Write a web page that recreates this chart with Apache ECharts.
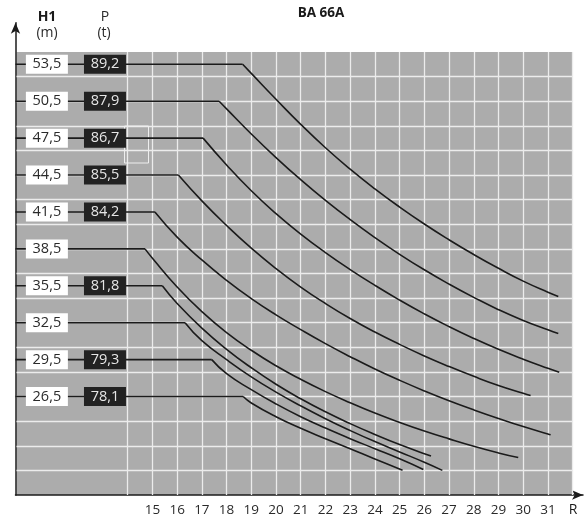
<!DOCTYPE html>
<html>
<head>
<meta charset="utf-8">
<script src="https://cdn.jsdelivr.net/npm/echarts@6/dist/echarts.min.js"></script>
<style>
html,body{margin:0;padding:0;background:#fff;}
#chart{width:584px;height:517px;}
</style>
</head>
<body>
<div id="chart"></div>
<script>
// ---- data ----
const TITLE = 'BA 66A';
const H1 = [53.5, 50.5, 47.5, 44.5, 41.5, 38.5, 35.5, 32.5, 29.5, 26.5];
const P  = [89.2, 87.9, 86.7, 85.5, 84.2, null, 81.8, null, 79.3, 78.1];
const ROW_Y = [17.5, 16, 14.5, 13, 11.5, 10, 8.5, 7, 5.5, 4];
const X_TICKS = [15,16,17,18,19,20,21,22,23,24,25,26,27,28,29,30,31];
const C1 = [[18.65,17.5],[19,17.13],[20,16.08],[21,15.06],[22,14.11],[23,13.24],[24,12.44],[25,11.7],[26,11.01],[27,10.37],[28,9.77],[29,9.21],[30,8.69],[31,8.24],[31.42,8.07]];
const C2 = [[17.7,16],[18,15.69],[19,14.67],[20,13.71],[21,12.81],[22,11.97],[23,11.19],[24,10.46],[25,9.78],[26,9.15],[27,8.57],[28,8.03],[29,7.53],[30,7.09],[31,6.71],[31.42,6.56]];
const C3 = [[17.05,14.5],[18,13.41],[19,12.36],[20,11.43],[21,10.6],[22,9.85],[23,9.16],[24,8.52],[25,7.92],[26,7.36],[27,6.84],[28,6.36],[29,5.92],[30,5.52],[31,5.15],[31.46,4.99]];
const C4 = [[16.05,13],[17,11.95],[18,10.95],[19,10.03],[20,9.2],[21,8.45],[22,7.78],[23,7.17],[24,6.62],[25,6.12],[26,5.65],[27,5.22],[28,4.82],[29,4.45],[30,4.13],[30.3,4.04]];
const C5 = [[15.1,11.5],[16,10.48],[17,9.55],[18,8.72],[19,7.98],[20,7.32],[21,6.72],[22,6.15],[23,5.62],[24,5.12],[25,4.66],[26,4.23],[27,3.83],[28,3.46],[29,3.11],[30,2.78],[31,2.48],[31.11,2.45]];
const C6 = [[14.7,10],[15,9.62],[16,8.45],[17,7.45],[18,6.6],[19,5.88],[20,5.25],[21,4.7],[22,4.2],[23,3.75],[24,3.33],[25,2.95],[26,2.6],[27,2.28],[28,1.98],[29,1.71],[29.8,1.52]];
const C7 = [[15.4,8.5],[16,7.78],[17,6.78],[18,5.92],[19,5.17],[20,4.5],[21,3.91],[22,3.38],[23,2.9],[24,2.46],[25,2.05],[26,1.68],[26.27,1.58]];
const C8 = [[16.32,7],[17,6.27],[18,5.5],[19,4.8],[20,4.18],[21,3.62],[22,3.1],[23,2.62],[24,2.17],[25,1.75],[26,1.33],[26.73,1.0]];
const C9 = [[17.4,5.5],[18,4.93],[19,4.28],[20,3.7],[21,3.18],[22,2.72],[23,2.29],[24,1.88],[25,1.47],[25.96,1.04]];
const C10 = [[18.67,4],[19,3.74],[20,3.18],[21,2.71],[22,2.29],[23,1.88],[24,1.46],[25.12,1.01]];
const CURVES = [C1,C2,C3,C4,C5,C6,C7,C8,C9,C10];

// ---- layout (not data) ----
const X_MIN = 9.46, X_MAX = 32.42, Y_MAX = 19.19;
const GRID_X0 = 14, GRID_X1 = 32, GRID_Y1 = 18;
const WHITE_X = 10.73, DARK_X = 13.08;
const FONT = '"Open Sans", "Noto Sans", sans-serif';
const LINE_C = '#1b1b1b';

const fmt = v => String(v.toFixed(1)).replace('.', ',');

const chart = echarts.init(document.getElementById('chart'), null, {renderer: 'canvas'});

const gridLines = [];
for (let y = 1; y < GRID_Y1; y++) gridLines.push([{coord:[X_MIN + 0.04, y]}, {coord:[GRID_X1, y]}]);
for (let x = GRID_X0; x <= GRID_X1; x++) gridLines.push([{coord:[x, 0]}, {coord:[x, GRID_Y1]}]);

const series = [];
series.push({
  type: 'line', data: [[X_MIN, 0]], symbol: 'none', lineStyle: {opacity: 0}, z: 1, silent: true,
  markArea: {silent: true, z: 0, itemStyle: {color: '#acacac'}, data: [[{coord:[X_MIN + 0.04, 0]}, {coord:[GRID_X1, GRID_Y1]}]]},
  markLine: {silent: true, z: 1, symbol: 'none', label: {show: false},
    lineStyle: {color: '#ececec', width: 1.3, type: 'solid'}, data: gridLines}
});
// connector lines
ROW_Y.forEach((y, i) => {
  series.push({type: 'line', data: [[X_MIN, y], [CURVES[i][0][0], y]], symbol: 'none', z: 4,
    lineStyle: {color: LINE_C, width: 1.6}, silent: true});
});
// curves
CURVES.forEach(c => {
  series.push({type: 'line', data: c, symbol: 'none', smooth: 0.5, z: 4,
    lineStyle: {color: LINE_C, width: 1.6}, silent: true});
});
// label boxes
series.push({
  type: 'scatter', z: 6, silent: true, symbol: 'rect', symbolSize: [42, 19],
  itemStyle: {color: '#ffffff', opacity: 1},
  data: H1.map((h, i) => [WHITE_X, ROW_Y[i], fmt(h)]),
  label: {show: true, position: 'inside', formatter: p => p.value[2], color: '#2a2a2a', fontSize: 14.5, fontFamily: FONT}
});
series.push({
  type: 'scatter', z: 6, silent: true, symbol: 'rect', symbolSize: [42, 19],
  itemStyle: {color: '#222222', opacity: 1},
  data: P.map((p, i) => p == null ? null : [DARK_X, ROW_Y[i], fmt(p)]).filter(d => d),
  label: {show: true, position: 'inside', formatter: p => p.value[2], color: '#e6e6e6', fontSize: 14.5, fontFamily: FONT}
});

const option = {
  animation: false,
  backgroundColor: '#ffffff',
  grid: {left: 15.5, right: 1, top: 22.7, bottom: 21.3, containLabel: false},
  xAxis: {
    type: 'value', min: X_MIN, max: X_MAX,
    splitLine: {show: false}, axisTick: {show: false},
    axisLine: {show: true, symbol: ['none', 'arrow'], symbolSize: [7, 11],
      lineStyle: {color: LINE_C, width: 1.5}},
    axisLabel: {customValues: X_TICKS, color: '#2a2a2a', fontSize: 13.5, fontFamily: FONT, margin: 8,
      formatter: v => String(v)}
  },
  yAxis: {
    type: 'value', min: 0, max: Y_MAX,
    splitLine: {show: false}, axisTick: {show: false}, axisLabel: {show: false},
    axisLine: {show: true, symbol: ['none', 'arrow'], symbolSize: [7, 11],
      lineStyle: {color: LINE_C, width: 1.5}}
  },
  graphic: [
    {type: 'text', x: 321, y: 13, style: {text: TITLE, fill: '#1a1a1a', font: 'bold 13.5px ' + FONT, textAlign: 'center', textVerticalAlign: 'middle'}},
    {type: 'text', x: 47, y: 17, style: {text: 'H1', fill: '#1a1a1a', font: 'bold 14px ' + FONT, textAlign: 'center', textVerticalAlign: 'middle'}},
    {type: 'text', x: 47, y: 33, style: {text: '(m)', fill: '#2a2a2a', font: '14px ' + FONT, textAlign: 'center', textVerticalAlign: 'middle'}},
    {type: 'text', x: 105, y: 17, style: {text: 'P', fill: '#2a2a2a', font: '14px ' + FONT, textAlign: 'center', textVerticalAlign: 'middle'}},
    {type: 'text', x: 104, y: 33, style: {text: '(t)', fill: '#2a2a2a', font: '14px ' + FONT, textAlign: 'center', textVerticalAlign: 'middle'}},
    {type: 'text', x: 573, y: 510, style: {text: 'R', fill: '#1a1a1a', font: '14px ' + FONT, textAlign: 'center', textVerticalAlign: 'middle'}},
    {type: 'rect', z: 2, shape: {x: 124.5, y: 126, width: 24, height: 37}, style: {fill: 'none', stroke: '#eeeeee', lineWidth: 1}}
  ],
  series: series
};
chart.setOption(option);
</script>
</body>
</html>
